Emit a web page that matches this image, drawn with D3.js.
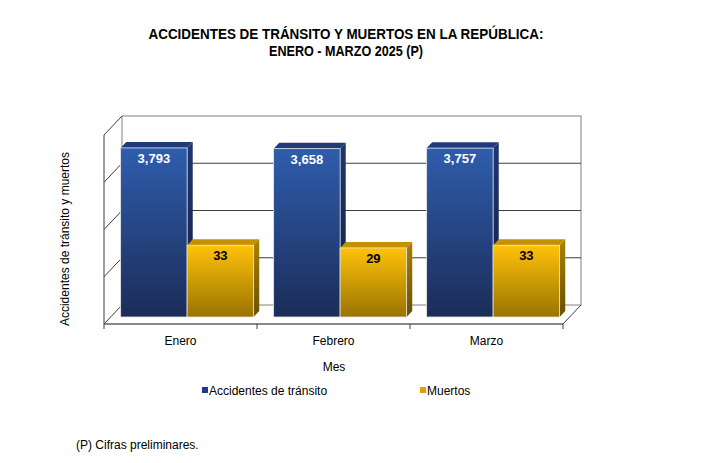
<!DOCTYPE html>
<html>
<head>
<meta charset="utf-8">
<script src="https://cdn.jsdelivr.net/npm/d3@7"></script>
<style>
  html, body { margin: 0; padding: 0; background: #fff; }
  svg { display: block; }
  text { font-family: "Liberation Sans", Arial, sans-serif; }
</style>
</head>
<body>
<svg id="chart" width="714" height="463"></svg>
<script>
const categories = ["Enero", "Febrero", "Marzo"];
const seriesNames = ["Accidentes de tránsito", "Muertos"];
const accidentes = [3793, 3658, 3757];
const muertos = [33, 29, 33];
const yTicks = [1, 10, 100, 1000, 10000];
const titleLines = ["ACCIDENTES DE TRÁNSITO Y MUERTOS EN LA REPÚBLICA:", "ENERO - MARZO 2025 (P)"];
const yTitle = "Accidentes de  tránsito y muertos";
const xTitle = "Mes";
const footnote = "(P) Cifras preliminares.";

const svg = d3.select("#chart");

// plot geometry (front plane)
const x0 = 104, x1 = 563, yFloor = 324, yTopF = 135;
const DX = 18, DY = -19; // depth offset (back wall)

const x = d3.scaleBand().domain(categories).range([x0, x1]).paddingInner(0).paddingOuter(0);
const y = d3.scaleLog().domain([1, 10000]).range([yFloor, yTopF]);

const defs = svg.append("defs");
function grad(id, c1, c2) {
  const g = defs.append("linearGradient").attr("id", id)
    .attr("x1", 0).attr("y1", 0).attr("x2", 0).attr("y2", 1);
  g.append("stop").attr("offset", "0%").attr("stop-color", c1);
  g.append("stop").attr("offset", "100%").attr("stop-color", c2);
}
grad("blueFront", "#2f5dad", "#1b2c58");
grad("blueSide", "#1e3670", "#131f42");
grad("yelFront", "#ffc20a", "#9a7300");
grad("yelSide", "#a88000", "#6a4f00");

const wallStroke = "#808080";
const gridStroke = "#3f3f3f";

// back wall
const g = svg.append("g");
g.append("rect")
  .attr("x", x0 + DX).attr("y", y(10000) + DY)
  .attr("width", x1 - x0).attr("height", y(1) - y(10000))
  .attr("fill", "#fff").attr("stroke", wallStroke).attr("stroke-width", 1);

// gridlines on back wall and left wall
yTicks.forEach(v => {
  const yf = y(v);
  if (v !== 1 && v !== 10000) {
    g.append("line")
      .attr("x1", x0 + DX).attr("x2", x1 + DX)
      .attr("y1", yf + DY).attr("y2", yf + DY)
      .attr("stroke", gridStroke).attr("stroke-width", 1);
  }
  g.append("line")
    .attr("x1", x0).attr("y1", yf)
    .attr("x2", x0 + DX).attr("y2", yf + DY)
    .attr("stroke", gridStroke).attr("stroke-width", 1);
});
g.append("line").attr("x1", x0).attr("x2", x0).attr("y1", y(10000)).attr("y2", yFloor)
  .attr("stroke", gridStroke).attr("stroke-width", 1);
g.append("line").attr("x1", x1).attr("y1", yFloor).attr("x2", x1 + DX).attr("y2", yFloor + DY)
  .attr("stroke", gridStroke).attr("stroke-width", 1);

// bars
const t1 = 7 / 19, t2 = 0.68;
const pad = 10;
const bw = (x.bandwidth() - 2 * pad) / 2;
const fx = DX * t1, fy = DY * t1;
const ddx = DX * (t2 - t1), ddy = DY * (t2 - t1);

const seriesData = [
  { name: seriesNames[0], values: accidentes, front: "url(#blueFront)", side: "url(#blueSide)", top: "#1f3b7a", label: "#fff" },
  { name: seriesNames[1], values: muertos, front: "url(#yelFront)", side: "url(#yelSide)", top: "#c29200", label: "#000" }
];

const bars = svg.append("g");
categories.forEach((c, ci) => {
  seriesData.forEach((s, si) => {
    const v = s.values[ci];
    const xl = x(c) + pad + si * bw + fx;
    const xr = xl + bw;
    const yt = y(v) + fy;
    const yb = y(1) + fy;
    const bg = bars.append("g");
    bg.append("path")
      .attr("d", `M${xr},${yt} L${xr + ddx},${yt + ddy} L${xr + ddx},${yb + ddy} L${xr},${yb} Z`)
      .attr("fill", s.side);
    bg.append("path")
      .attr("d", `M${xl},${yt} L${xl + ddx},${yt + ddy} L${xr + ddx},${yt + ddy} L${xr},${yt} Z`)
      .attr("fill", s.top);
    bg.append("rect")
      .attr("x", xl).attr("y", yt).attr("width", bw).attr("height", yb - yt)
      .attr("fill", s.front)
      .attr("stroke", "#e6e6e6").attr("stroke-width", 0.8);
    bg.append("text")
      .attr("x", xl + bw / 2).attr("y", yt + 15)
      .attr("text-anchor", "middle")
      .attr("font-size", 13).attr("font-weight", "bold")
      .attr("fill", s.label)
      .text(d3.format(",")(v));
  });
});

// front floor edge (axis)
svg.append("line").attr("x1", x0).attr("x2", x1).attr("y1", yFloor).attr("y2", yFloor)
  .attr("stroke", "#606060").attr("stroke-width", 1.6);
const tickPos = categories.map(c => x(c)).concat([x1]);
tickPos.forEach(tx => {
  svg.append("line").attr("x1", tx).attr("x2", tx).attr("y1", yFloor).attr("y2", yFloor + 5)
    .attr("stroke", "#404040").attr("stroke-width", 1);
});

categories.forEach(c => {
  svg.append("text")
    .attr("x", x(c) + x.bandwidth() / 2).attr("y", 345)
    .attr("text-anchor", "middle").attr("font-size", 12).attr("fill", "#000")
    .text(c);
});

svg.append("text").attr("x", 334).attr("y", 371)
  .attr("text-anchor", "middle").attr("font-size", 12).text(xTitle);
svg.append("text")
  .attr("transform", "translate(69,239) rotate(-90)")
  .attr("text-anchor", "middle").attr("font-size", 12).text(yTitle);

// title (condensed to match narrow font width)
const titleWidths = [395, 154];
const titleBase = [38.5, 55.5];
titleLines.forEach((t, i) => {
  svg.append("text")
    .attr("x", 346).attr("y", titleBase[i])
    .attr("text-anchor", "middle")
    .attr("font-weight", "bold").attr("font-size", 14.5)
    .attr("textLength", titleWidths[i]).attr("lengthAdjust", "spacingAndGlyphs")
    .text(t);
});

// legend
const legendX = [202, 420];
const legColors = ["#1f3b86", "#d9a400"];
seriesNames.forEach((n, i) => {
  svg.append("rect").attr("x", legendX[i]).attr("y", 387).attr("width", 6).attr("height", 6)
    .attr("fill", legColors[i]);
  svg.append("text").attr("x", legendX[i] + 7).attr("y", 394.5)
    .attr("font-size", 12).text(n);
});

svg.append("text").attr("x", 76).attr("y", 449).attr("font-size", 12).text(footnote);
</script>
</body>
</html>
